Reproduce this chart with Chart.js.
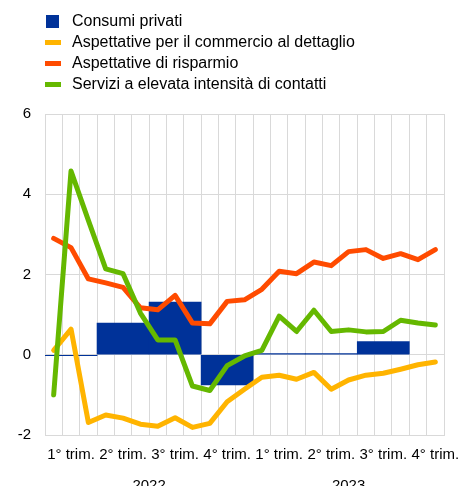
<!DOCTYPE html>
<html>
<head>
<meta charset="utf-8">
<script src="https://cdn.jsdelivr.net/npm/chart.js"></script>
<style>
    html, body { margin: 0; padding: 0; background: #fff; overflow: hidden; }
    #wrap { position: relative; width: 460px; height: 500px; }
    #legend { position: absolute; left: 45px; top: 10px; font-family: "Liberation Sans", Arial, sans-serif; font-size: 16px; color: #000; }
    #legend div { height: 21px; line-height: 21px; white-space: nowrap; }
    #legend span { display: inline-block; vertical-align: middle; margin-right: 11px; }
</style>
</head>
<body>
<div id="wrap">
    <canvas id="grafico" width="460" height="500"></canvas>
    <div id="legend"></div>
</div>
<script type="text/javascript">
    // mesi da gennaio 2022 a novembre 2023
    var mesi = ['gen 2022', 'feb 2022', 'mar 2022', 'apr 2022', 'mag 2022', 'giu 2022',
        'lug 2022', 'ago 2022', 'set 2022', 'ott 2022', 'nov 2022', 'dic 2022',
        'gen 2023', 'feb 2023', 'mar 2023', 'apr 2023', 'mag 2023', 'giu 2023',
        'lug 2023', 'ago 2023', 'set 2023', 'ott 2023', 'nov 2023'];
    var etichetteTrim = ['1° trim.', '2° trim.', '3° trim.', '4° trim.'];
    var anni = ['2022', '2023'];
    var centroAnni = [5.5, 17];

    // consumi privati, trimestrali (posizione = mese centrale del trimestre)
    var trimPos = [1, 4, 7, 10, 13, 16, 19];
    var consumiPrivati = [-0.02, 0.79, 1.31, -0.75, 0.03, 0.03, 0.33];

    var commercio = [0.11, 0.64, -1.69, -1.5, -1.58, -1.73, -1.78, -1.57, -1.81, -1.71, -1.17, -0.86,
        -0.56, -0.51, -0.61, -0.44, -0.86, -0.63, -0.51, -0.46, -0.36, -0.25, -0.18];
    var risparmio = [2.9, 2.67, 1.89, 1.79, 1.68, 1.17, 1.12, 1.48, 0.79, 0.77, 1.33, 1.37,
        1.63, 2.08, 2.02, 2.31, 2.22, 2.57, 2.62, 2.4, 2.52, 2.37, 2.62];
    var servizi = [-1.0, 4.58, 3.35, 2.14, 2.02, 1.04, 0.37, 0.37, -0.78, -0.89, -0.27, -0.03,
        0.11, 0.96, 0.58, 1.11, 0.58, 0.62, 0.57, 0.58, 0.86, 0.79, 0.74];

    var nomi = ['Consumi privati', 'Aspettative per il commercio al dettaglio',
        'Aspettative di risparmio', 'Servizi a elevata intensità di contatti'];
    var colori = ['#003299', '#ffb400', '#ff4b00', '#65b800'];

    // legenda
    var legend = document.getElementById('legend');
    nomi.forEach(function (nome, i) {
        var row = document.createElement('div');
        var mark = i === 0
            ? '<span style="width:13px;height:13px;margin-left:1px;margin-right:13px;background:' + colori[i] + '"></span>'
            : '<span style="width:16px;height:5px;background:' + colori[i] + '"></span>';
        row.innerHTML = mark + nome;
        legend.appendChild(row);
    });

    var font = { family: '"Liberation Sans", Arial, sans-serif', size: 15 };
    var grigio = '#d9d9d9';

    function linea(label, data, colore, ordine) {
        return {
            type: 'line',
            label: label,
            data: data,
            xAxisID: 'x',
            borderColor: colore,
            backgroundColor: colore,
            borderWidth: 5,
            pointRadius: 0,
            tension: 0,
            borderCapStyle: 'round',
            borderJoinStyle: 'round',
            order: ordine
        };
    }

    var ctx = document.getElementById('grafico').getContext('2d');
    var grafico = new Chart(ctx, {
        type: 'bar',
        data: {
            labels: mesi,
            datasets: [
                {
                    type: 'bar',
                    label: nomi[0],
                    data: trimPos.map(function (p, i) { return { x: p, y: consumiPrivati[i] }; }),
                    xAxisID: 'x2',
                    backgroundColor: colori[0],
                    borderWidth: 0,
                    grouped: false,
                    categoryPercentage: 1,
                    barPercentage: 1,
                    order: 4
                },
                linea(nomi[1], commercio, colori[1], 3),
                linea(nomi[2], risparmio, colori[2], 2),
                linea(nomi[3], servizi, colori[3], 1)
            ]
        },
        options: {
            responsive: false,
            animation: false,
            layout: { padding: { top: 114, right: 0, left: 0, bottom: 0 } },
            plugins: { legend: { display: false }, tooltip: { enabled: false } },
            scales: {
                x: {
                    type: 'category',
                    position: 'bottom',
                    offset: true,
                    weight: 0,
                    grid: { color: grigio, offset: true, drawTicks: false },
                    border: { color: grigio },
                    ticks: {
                        autoSkip: false,
                        maxRotation: 0,
                        padding: 11,
                        color: '#000',
                        font: font,
                        callback: function (v, i) {
                            return i % 3 === 1 ? etichetteTrim[Math.floor(i / 3) % 4] : '';
                        }
                    },
                    afterFit: function (s) {
                        s.height = 34;
                        s.paddingLeft = 0;
                        s.paddingRight = 16;
                    }
                },
                x2: {
                    type: 'linear',
                    position: 'bottom',
                    min: -0.5,
                    max: 22.5,
                    offset: false,
                    weight: 1,
                    grid: { display: false, drawTicks: false },
                    border: { display: false },
                    afterBuildTicks: function (s) {
                        s.ticks = centroAnni.map(function (v) { return { value: v }; });
                    },
                    ticks: {
                        autoSkip: false,
                        maxRotation: 0,
                        padding: 8,
                        color: '#000',
                        font: font,
                        callback: function (v) { return anni[centroAnni.indexOf(v)]; }
                    },
                    afterFit: function (s) {
                        s.height = 31;
                        s.paddingLeft = 0;
                        s.paddingRight = 0;
                    }
                },
                y: {
                    min: -2,
                    max: 6,
                    grid: { color: grigio, drawTicks: false },
                    border: { color: grigio },
                    ticks: { stepSize: 2, padding: 14, color: '#000', font: font },
                    afterFit: function (s) { s.width = 45; }
                }
            }
        }
    });
</script>
</body>
</html>
